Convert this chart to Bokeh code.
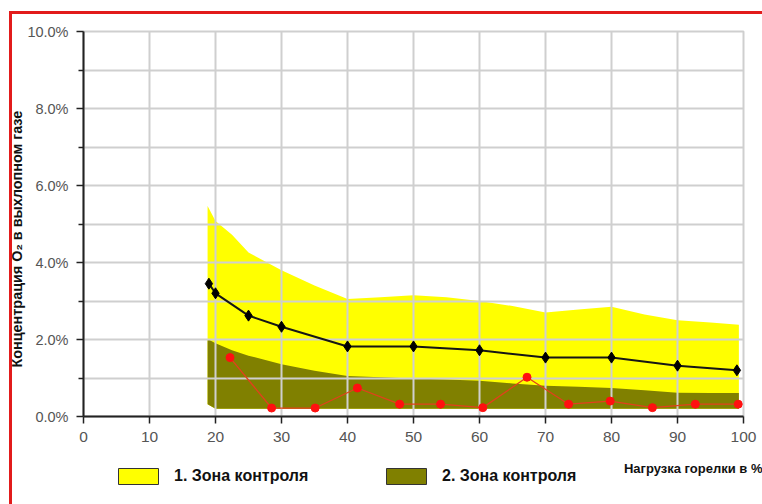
from bokeh.plotting import figure
from bokeh.layouts import column
from bokeh.models import (Range1d, FixedTicker, CustomJSTickFormatter, Legend, LegendItem, Title, Label)
from bokeh.embed import file_html
from bokeh.resources import INLINE

# ---- data ----
zone_x = [18.8, 20, 22.5, 25, 30, 35, 40, 45, 50, 55, 60, 65, 70, 75, 80, 85, 90, 95, 99.3]
zone1_upper = [5.47, 5.08, 4.72, 4.26, 3.8, 3.4, 3.05, 3.1, 3.15, 3.1, 3.0, 2.87, 2.7, 2.78, 2.85, 2.65, 2.5, 2.44, 2.38]
zone2_upper = [2.01, 1.9, 1.72, 1.58, 1.36, 1.19, 1.05, 1.02, 0.99, 0.96, 0.93, 0.86, 0.8, 0.77, 0.74, 0.68, 0.62, 0.61, 0.61]
zone2_lower = [0.32, 0.2, 0.2, 0.2, 0.2, 0.2, 0.2, 0.2, 0.2, 0.2, 0.2, 0.2, 0.2, 0.2, 0.2, 0.2, 0.2, 0.2, 0.2]

black_x = [19, 20, 25, 30, 40, 50, 60, 70, 80, 90, 99]
black_y = [3.45, 3.2, 2.62, 2.33, 1.82, 1.82, 1.72, 1.53, 1.53, 1.32, 1.2]

red_x = [22.2, 28.5, 35.1, 41.5, 47.9, 54.1, 60.5, 67.2, 73.5, 79.8, 86.2, 92.7, 99.2]
red_y = [1.53, 0.22, 0.22, 0.74, 0.32, 0.32, 0.23, 1.02, 0.32, 0.4, 0.23, 0.32, 0.32]

x_ticks = [0, 10, 20, 30, 40, 50, 60, 70, 80, 90, 100]
y_ticks = [0, 2, 4, 6, 8, 10]
y_minor = [1, 3, 5, 7, 9]

legend_labels = ["1. Зона контроля", "2. Зона контроля"]
x_title = "Нагрузка горелки в %"
y_title = "Концентрация O₂ в выхлопном газе"

YELLOW = "#ffff00"
OLIVE = "#808000"
FONT = "Liberation Sans"
RED = "#e21b1b"
GRID = "#cfcfcf"

W = 762
H_MAIN = 455
H_FOOT = 504 - H_MAIN

# ---------------- main chart ----------------
p = figure(width=W, height=H_MAIN, output_backend="svg", toolbar_location=None,
           x_range=Range1d(0, 100), y_range=Range1d(0, 10),
           min_border_left=83, min_border_right=19, min_border_top=31, min_border_bottom=39,
           background_fill_color="white", border_fill_alpha=0)
p.frame_align = False
p.outline_line_color = GRID
p.outline_line_width = 2
p.styles = {
    "background": (f"linear-gradient({RED},{RED}) 9px 11px / 3px 100% no-repeat, "
                   f"linear-gradient({RED},{RED}) 9px 11px / 100% 3px no-repeat, white"),
}

p.xgrid.ticker = FixedTicker(ticks=x_ticks)
p.ygrid.ticker = FixedTicker(ticks=y_ticks, minor_ticks=y_minor)
for g in (p.xgrid, p.ygrid):
    g.grid_line_color = GRID
    g.grid_line_width = 2
    g.level = "guide"          # grid is drawn over the zones, as in the reference
p.ygrid.minor_grid_line_color = GRID
p.ygrid.minor_grid_line_width = 2

xa = p.xaxis[0]
ya = p.yaxis[0]
xa.ticker = FixedTicker(ticks=x_ticks)
ya.ticker = FixedTicker(ticks=y_ticks, minor_ticks=y_minor)
ya.formatter = CustomJSTickFormatter(code="return tick.toFixed(1) + '%';")
for ax in (xa, ya):
    ax.axis_line_color = "#222222"
    ax.axis_line_width = 2
    ax.major_tick_line_color = "#222222"
    ax.major_tick_line_width = 1.5
    ax.major_tick_out = 7
    ax.major_tick_in = 0
    ax.major_label_text_font = FONT
    ax.major_label_text_color = "#555555"
    ax.level = "annotation"
xa.major_label_text_font_size = "15.5px"
ya.major_label_text_font_size = "14.5px"
xa.minor_tick_line_color = None
ya.minor_tick_line_color = "#222222"
ya.minor_tick_line_width = 1.5
ya.minor_tick_out = 5
ya.minor_tick_in = 0
xa.major_label_standoff = 8
ya.major_label_standoff = 8

r_zone1 = p.varea(x=zone_x, y1=zone2_lower, y2=zone1_upper, fill_color=YELLOW, level="glyph")
r_zone2 = p.varea(x=zone_x, y1=zone2_lower, y2=zone2_upper, fill_color=OLIVE, level="glyph")

p.line(black_x, black_y, line_color="#151515", line_width=2, level="annotation")
p.scatter(black_x, black_y, marker="diamond", size=11, fill_color="black", line_color="black",
          level="annotation")
p.line(red_x, red_y, line_color="#e2401c", line_width=1.3, level="annotation")
p.scatter(red_x, red_y, marker="circle", size=8, fill_color="#ff1010", line_color="#ff1010",
          level="annotation")

p.add_layout(Title(text=y_title, align="left", offset=49, standoff=0, text_font=FONT,
                   text_font_style="bold", text_font_size="14.4px", text_color="#111111"), "left")

# ---------------- footer with legend and x title ----------------
f = figure(width=W, height=H_FOOT, output_backend="svg", toolbar_location=None,
           x_range=Range1d(0, W), y_range=Range1d(0, H_FOOT),
           x_axis_type=None, y_axis_type=None,
           min_border=0, min_border_left=0, min_border_right=0, min_border_top=0, min_border_bottom=0,
           background_fill_alpha=0, border_fill_alpha=0)
f.frame_align = False
f.outline_line_color = None
f.grid.visible = False
f.styles = {
    "background": f"linear-gradient({RED},{RED}) 9px 0px / 3px 100% no-repeat, white",
}

nan = float("nan")
sw1 = f.quad(left=[nan], right=[nan], top=[nan], bottom=[nan], fill_color=YELLOW, line_color="#333333", line_width=1)
sw2 = f.quad(left=[nan], right=[nan], top=[nan], bottom=[nan], fill_color=OLIVE, line_color="#333333", line_width=1)

for lab, sw, xloc in ((legend_labels[0], sw1, 113), (legend_labels[1], sw2, 381)):
    lg = Legend(items=[LegendItem(label=lab, renderers=[sw])], location=(xloc, 18),
                glyph_width=50, glyph_height=20, label_height=20, label_standoff=11,
                padding=0, margin=0, border_line_color=None, background_fill_alpha=0,
                label_text_font=FONT, label_text_font_style="bold", label_text_font_size="16px",
                label_text_color="#111111")
    f.add_layout(lg, "center")

f.add_layout(Label(x=W, y=H_FOOT - 13, text=x_title, text_align="right", text_baseline="middle",
                   text_font=FONT, text_font_style="bold", text_font_size="13px", text_color="#111111"))

layout = column(p, f, spacing=0)
open("out.html", "w").write(file_html(layout, INLINE))
